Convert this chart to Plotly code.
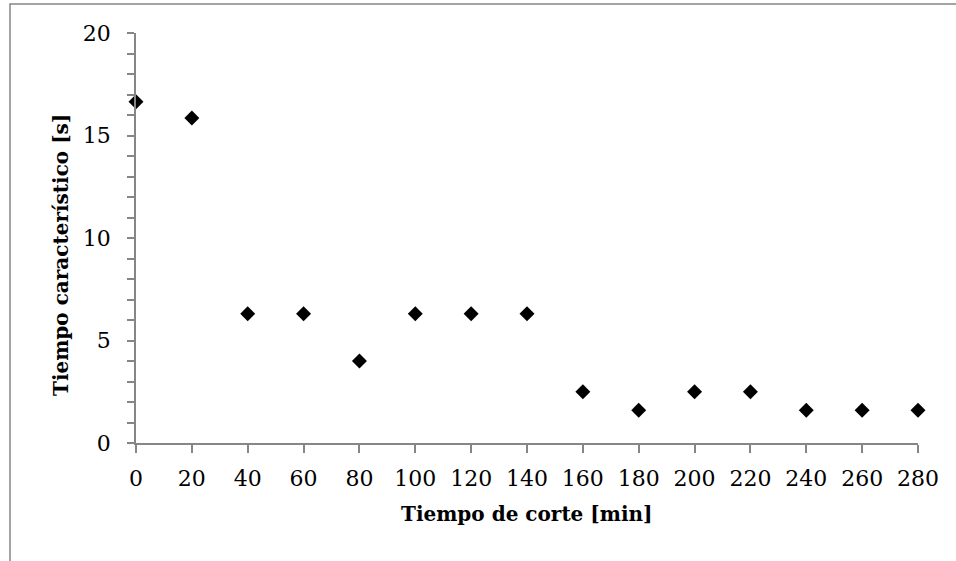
import plotly.graph_objects as go

tiempo_corte = [0, 20, 40, 60, 80, 100, 120, 140, 160, 180, 200, 220, 240, 260, 280]
tiempo_caract = [16.65, 15.85, 6.3, 6.3, 4.0, 6.3, 6.3, 6.3, 2.5, 1.6, 2.5, 2.5, 1.6, 1.6, 1.6]
x_ticks = list(range(0, 281, 20))
y_ticks = [0, 5, 10, 15, 20]

FONT = "DejaVu Serif"
AX = "#868686"

fig = go.Figure()
fig.add_trace(go.Scatter(
    x=tiempo_corte, y=tiempo_caract, mode="markers",
    marker=dict(symbol="diamond", size=11.5, color="black"),
    cliponaxis=False, showlegend=False,
))

fig.update_layout(
    width=956, height=561,
    margin=dict(l=136, r=38, t=33, b=118),
    paper_bgcolor="white", plot_bgcolor="white",
    font=dict(family=FONT, size=22, color="black"),
    xaxis=dict(range=[0, 280], tickvals=x_ticks, showgrid=False, zeroline=False,
               showline=True, linecolor=AX, linewidth=1.5,
               ticks="outside", ticklen=8, tickcolor=AX, tickwidth=1.5,
               ticklabelstandoff=7, tickfont=dict(family=FONT, size=22)),
    yaxis=dict(range=[0, 20], tickvals=y_ticks, showgrid=False, zeroline=False,
               showline=True, linecolor=AX, linewidth=1.5,
               ticks="outside", ticklen=7, tickcolor=AX, tickwidth=1.5,
               ticklabelstandoff=12, tickfont=dict(family=FONT, size=22),
               minor=dict(dtick=1, ticks="outside", ticklen=7, tickcolor=AX, tickwidth=1.5)),
    shapes=[dict(type="rect", xref="paper", yref="paper",
                 x0=(10 - 136) / 782, x1=1.1, y0=-0.5, y1=(443 - 4) / 410,
                 line=dict(color=AX, width=1.5), fillcolor="rgba(0,0,0,0)", layer="below")],
    annotations=[
        dict(text="<b>Tiempo de corte [min]</b>", xref="paper", yref="paper",
             x=0.5, y=(443 - 514) / 410, xanchor="center", yanchor="middle",
             showarrow=False, font=dict(family=FONT, size=20)),
        dict(text="<b>Tiempo característico [s]</b>", xref="paper", yref="paper",
             x=(61 - 136) / 782, y=(443 - 255) / 410, xanchor="center", yanchor="middle",
             textangle=-90, showarrow=False, font=dict(family=FONT, size=20)),
    ],
)

fig.write_html("out.html")
